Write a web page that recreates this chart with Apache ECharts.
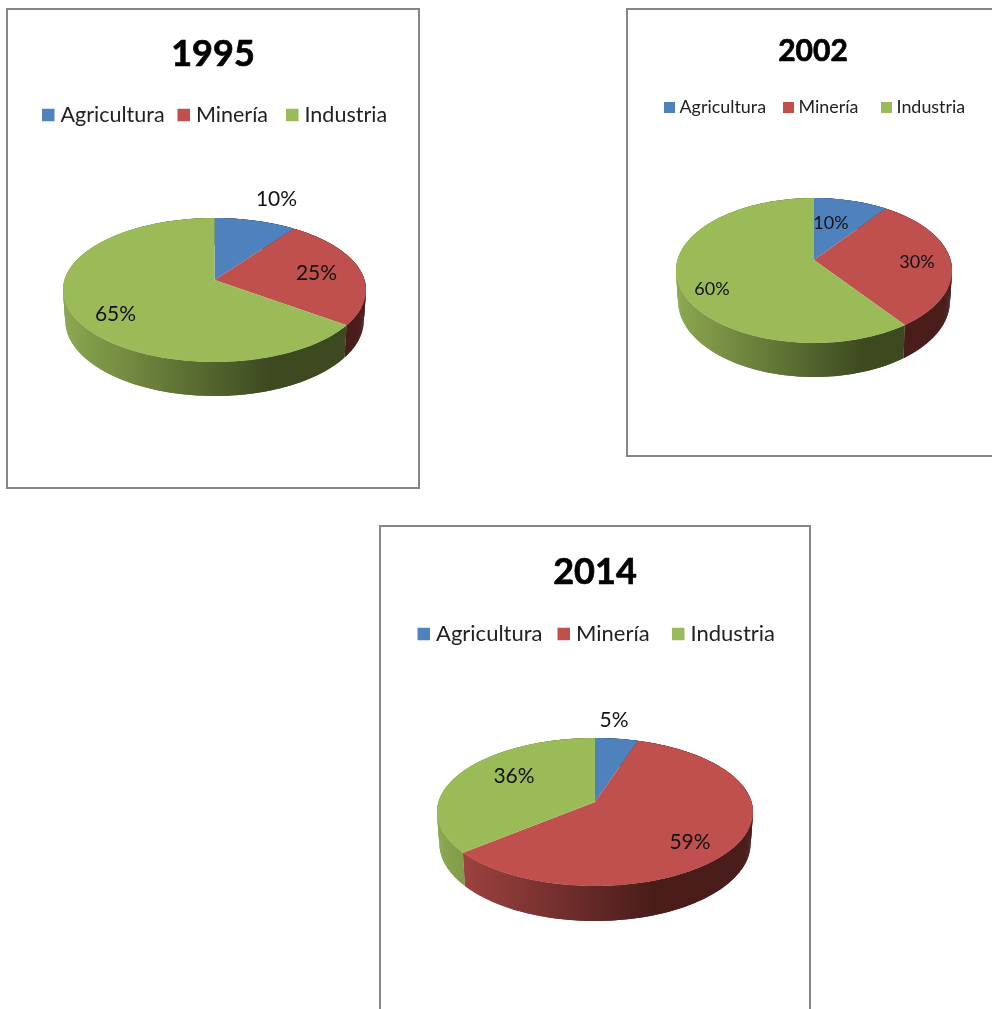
<!DOCTYPE html>
<html>
<head>
<meta charset="utf-8">
<title>Participación por sector</title>
<script src="https://cdn.jsdelivr.net/npm/echarts@6/dist/echarts.min.js"></script>
<style>
  html, body { margin: 0; padding: 0; background: #fff; overflow: hidden; }
  #main { width: 992px; height: 1009px; }
</style>
</head>
<body>
<div id="main"></div>
<script>
const categories = ["Agricultura", "Minería", "Industria"];
const years = ["1995", "2002", "2014"];
const values1995 = [10, 25, 65];
const values2002 = [10, 30, 60];
const values2014 = [5, 59, 36];
const allValues = [values1995, values2002, values2014];

const colors = ["#4f81bd", "#bf504d", "#9bbb59"];
// lado del cilindro: claro a la izquierda, oscuro desde ~2/3 del ancho
const wallStops = [
  ["#466fa5", "#1f3550"],
  ["#a84745", "#4a1d1b"],
  ["#8ba84f", "#3d4a20"],
];

// cada panel: marco, tapa de la torta (elipse), titulo, leyenda, etiquetas relativas al centro
const panels = [
  {
    box: [7, 9, 412, 479], cx: 214.5, cy: 290, rx: 151.5, ry: 72, tilt: 10, bottom: 396,
    titleX: 213, titleY: 54, titleSize: 36,
    legendXs: [42, 177.5, 286], legendY: 104, legendSize: 21.5, iconSize: 12.5, iconGap: 6, labelSize: 21,
    labels: [[62, -91], [102, -17], [-99, 24]],
  },
  {
    box: [627, 9, 400, 447], cx: 814, cy: 270.5, rx: 138, ry: 72.5, tilt: 10.5, bottom: 377,
    titleX: 813, titleY: 51, titleSize: 30,
    legendXs: [664, 783, 881], legendY: 98.5, legendSize: 17.9, iconSize: 11, iconGap: 4.5, labelSize: 18,
    labels: [[17, -47], [103, -8], [-102, 19]],
  },
  {
    box: [380, 526, 430, 520], cx: 595, cy: 812, rx: 158, ry: 74, tilt: 10, bottom: 921,
    titleX: 595, titleY: 572, titleSize: 36,
    legendXs: [417.5, 557.5, 672], legendY: 623, legendSize: 22, iconSize: 12.5, iconGap: 6, labelSize: 21,
    labels: [[19, -92], [95, 30], [-81, -36]],
  },
];

// punto del borde de la tapa para un angulo (0 = arriba, horario), con la perspectiva del grafico
function rim(p, angle) {
  const u = Math.sin(angle);
  const v = Math.cos(angle);
  const k = p.tilt / p.ry;
  const d = 1 + k * v;
  return [(p.rx * Math.sqrt(1 - k * k) * u) / d, (p.ry * v + p.tilt) / d];
}

function arc(p, from, to) {
  const a0 = (from / 100) * Math.PI * 2;
  const a1 = (to / 100) * Math.PI * 2;
  const n = Math.max(2, Math.ceil((a1 - a0) * 60));
  const pts = [];
  for (let i = 0; i <= n; i++) pts.push(rim(p, a0 + ((a1 - a0) * i) / n));
  return pts;
}

// el lado se arma con tiras solapadas para que la silueta siga la tangente entre tapa y base
function renderWall(p, c) {
  return function (params, api) {
    const start = api.value(0);
    const end = start + api.value(1);
    const pts = arc(p, start, end);
    const ry2 = p.ry * 1.05;
    const top = pts.map(([x, y]) => [p.cx + x, p.cy - y]);
    const low = pts.map(([x, y]) => [p.cx + x * 0.985, p.bottom - ry2 - (y * ry2) / p.ry]);
    const fill = {
      type: "linear", global: true,
      x: p.cx - p.rx, y: 0, x2: p.cx + p.rx, y2: 0,
      colorStops: [
        { offset: 0, color: wallStops[c][0] },
        { offset: 0.68, color: wallStops[c][1] },
        { offset: 1, color: wallStops[c][1] },
      ],
    };
    const children = [];
    for (let i = 0; i < pts.length - 1; i++) {
      const j = Math.min(i + 2, pts.length - 1);
      children.push({
        type: "polygon",
        shape: { points: [top[i], top[j], low[j], low[i]] },
        style: { fill: fill },
      });
    }
    return { type: "group", children: children };
  };
}

function renderTop(p, c) {
  return function (params, api) {
    const start = api.value(0);
    const value = api.value(1);
    const pts = arc(p, start, start + value);
    const points = [[p.cx, p.cy - p.tilt]].concat(pts.map(([x, y]) => [p.cx + x, p.cy - y]));
    return {
      type: "polygon",
      shape: { points: points },
      style: { fill: api.visual("color") },
    };
  };
}

function renderLabel(p, c) {
  return function (params, api) {
    return {
      type: "text",
      x: p.cx + p.labels[c][0],
      y: p.cy + p.labels[c][1],
      style: {
        text: api.value(1) + "%",
        fill: "#111",
        font: p.labelSize + "px Lato",
        align: "center",
        verticalAlign: "middle",
      },
    };
  };
}

const series = [];
panels.forEach((p, i) => {
  let acc = 0;
  categories.forEach((name, c) => {
    const row = [[acc, allValues[i][c]]];
    acc += allValues[i][c];
    const base = { coordinateSystem: "none", silent: true, data: row, animation: false };
    series.push(Object.assign({}, base, { type: "custom", name: name + " lado", z: 2, renderItem: renderWall(p, c) }));
    series.push(Object.assign({}, base, { type: "custom", name: name, z: 3, itemStyle: { color: colors[c] }, renderItem: renderTop(p, c) }));
    series.push(Object.assign({}, base, { type: "custom", name: name + " etiqueta", z: 4, renderItem: renderLabel(p, c) }));
  });
});

// una leyenda por entrada: en el original la separacion entre entradas no es pareja
const legends = [];
panels.forEach((p) => {
  categories.forEach((name, c) => {
    legends.push({
      data: [name],
      left: p.legendXs[c],
      top: p.legendY,
      padding: 0,
      icon: "rect",
      itemWidth: p.iconSize,
      itemHeight: p.iconSize,
      selectedMode: false,
      textStyle: {
        fontFamily: "Lato",
        fontSize: p.legendSize,
        color: "#222",
        padding: [0, 0, 0, p.iconGap - 5],
      },
    });
  });
});

const option = {
  animation: false,
  backgroundColor: "#fff",
  color: colors,
  graphic: panels.map((p) => ({
    type: "rect",
    z: 0,
    silent: true,
    shape: { x: p.box[0], y: p.box[1], width: p.box[2], height: p.box[3] },
    style: { fill: "#fff", stroke: "#868686", lineWidth: 2 },
  })),
  title: panels.map((p, i) => ({
    text: years[i],
    left: p.titleX,
    top: p.titleY - p.titleSize / 2,
    padding: 0,
    textAlign: "center",
    textStyle: {
      fontFamily: "Lato",
      fontWeight: "bold",
      fontSize: p.titleSize,
      color: "#000",
      textBorderColor: "#000",
      textBorderWidth: 0.7,
    },
  })),
  legend: legends,
  series: series,
};

const chart = echarts.init(document.getElementById("main"), null, { renderer: "canvas" });
chart.setOption(option);
</script>
</body>
</html>
